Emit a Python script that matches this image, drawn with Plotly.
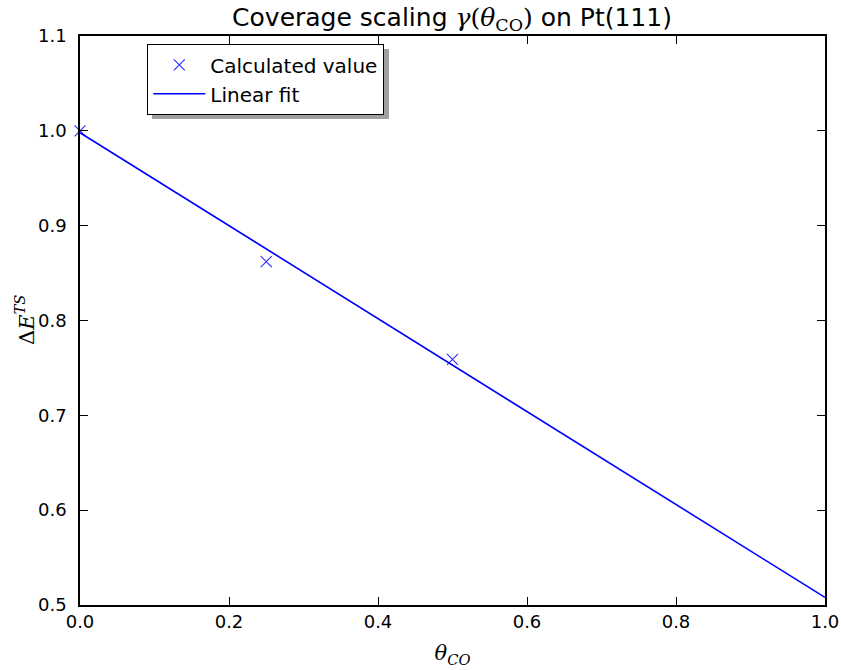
import plotly.graph_objects as go

# Calculated transition-state energies vs CO coverage
theta_co = [0.0, 0.25, 0.5]
delta_e_ts = [1.0, 0.862, 0.759]

# Linear fit evaluated at the ends of the coverage range
fit_theta = [0.0, 1.0]
fit_energy = [0.998, 0.508]

x_ticks = [0.0, 0.2, 0.4, 0.6, 0.8, 1.0]
y_ticks = [0.5, 0.6, 0.7, 0.8, 0.9, 1.0, 1.1]

W, H = 841, 670
L, R, T, B = 80, 16, 36, 65
pw, ph = W - L - R, H - T - B

def px_x(p):
    return (p - L) / pw

def px_y(p):
    return (H - B - p) / ph

SERIF = "DejaVu Serif"
SANS = "DejaVu Sans"

fig = go.Figure()
fig.add_trace(go.Scatter(
    x=theta_co, y=delta_e_ts, mode="markers", name="Calculated value",
    marker=dict(symbol="x-thin-open", size=11, color="#2a2aff",
                line=dict(width=1.1, color="#2a2aff")),
    cliponaxis=False,
))
fig.add_trace(go.Scatter(
    x=fit_theta, y=fit_energy, mode="lines", name="Linear fit",
    line=dict(color="#0000ff", width=1.6),
))

# legend drop shadow
lx0, ly0, lx1, ly1 = 147, 44, 384, 114
fig.add_shape(type="rect", xref="paper", yref="paper",
              x0=px_x(lx0 + 5), x1=px_x(lx1 + 5),
              y0=px_y(ly1 + 5), y1=px_y(ly0 + 5),
              fillcolor="#a0a0a0", line=dict(width=0), layer="above")

# y-axis label
fig.add_annotation(
    text="Δ<i>E</i><sup><i>TS</i></sup>", textangle=-90,
    xref="paper", yref="paper", x=px_x(25), y=px_y(320),
    xanchor="center", yanchor="middle", showarrow=False,
    font=dict(family=SERIF, size=21, color="black"),
)

axis_common = dict(
    showgrid=False, zeroline=False, showline=True, linecolor="black",
    linewidth=1.6, mirror="ticks", ticks="inside", ticklen=8, tickwidth=1,
    tickcolor="black", tickfont=dict(family=SANS, size=18, color="black"),
    automargin=False,
)

fig.update_layout(
    width=W, height=H,
    margin=dict(l=L, r=R, t=T, b=B),
    paper_bgcolor="white", plot_bgcolor="white",
    title=dict(
        text=f"Coverage scaling <span style='font-family:{SERIF}'><i>γ</i>(<i>θ</i><sub>CO</sub>)</span> on Pt(111)",
        x=452 / W, xanchor="center",
        y=1 - 17 / H, yanchor="middle",
        font=dict(family=SANS, size=25, color="black"),
    ),
    xaxis=dict(range=[0, 1], tickvals=x_ticks,
               ticktext=[f"{v:.1f}" for v in x_ticks],
               title=dict(text="<i>θ</i><sub><i>CO</i></sub>",
                          font=dict(family=SERIF, size=21, color="black"),
                          standoff=14),
               **axis_common),
    yaxis=dict(range=[0.5, 1.1], tickvals=y_ticks,
               ticktext=[f"{v:.1f}" for v in y_ticks],
               ticklabelstandoff=8,
               **axis_common),
    legend=dict(
        x=px_x(lx0), y=px_y(ly0), xanchor="left", yanchor="top",
        bgcolor="white", bordercolor="black", borderwidth=1.3,
        font=dict(family=SANS, size=20, color="black"),
        itemwidth=52, tracegroupgap=0,
    ),
    showlegend=True,
)

fig.write_html("out.html")
